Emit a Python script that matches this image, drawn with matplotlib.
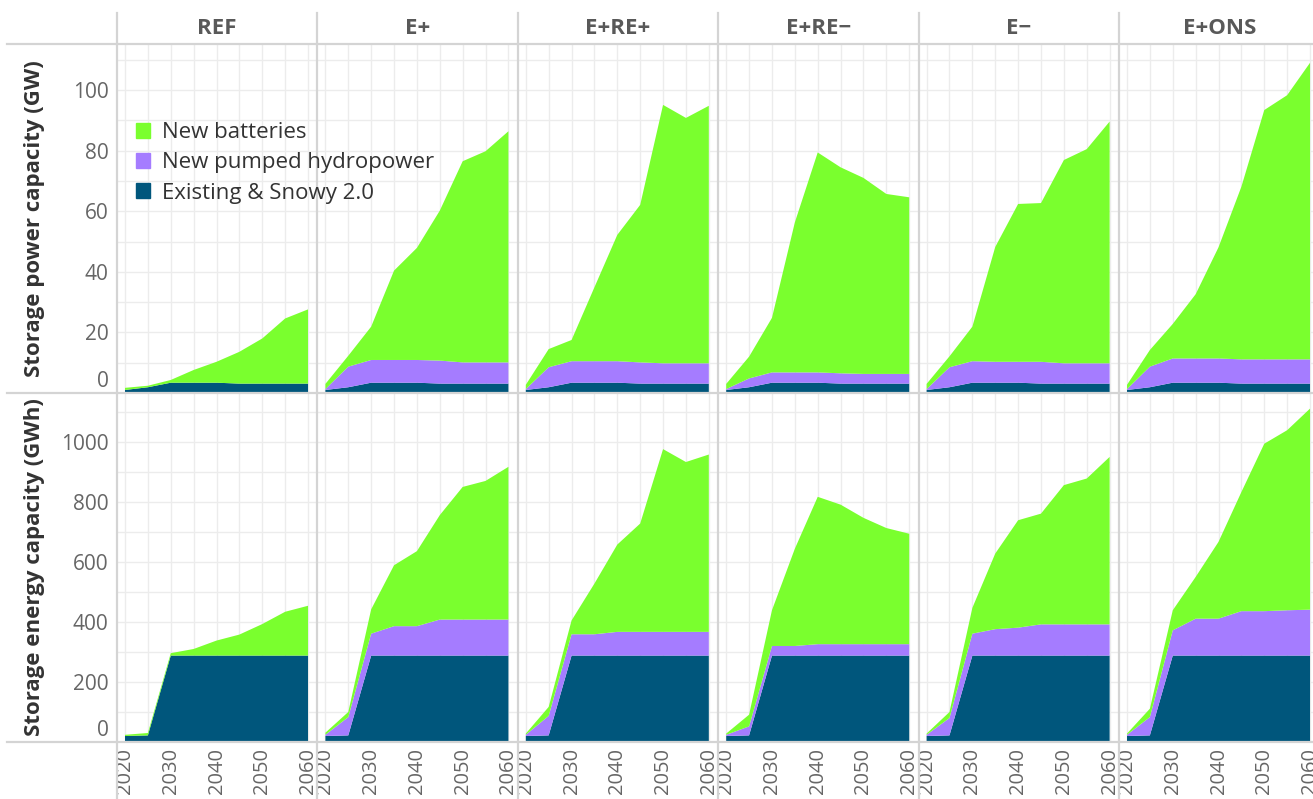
import matplotlib
matplotlib.use('agg')
import matplotlib.pyplot as plt
from matplotlib.lines import Line2D
from matplotlib.patches import Patch
from matplotlib import transforms
import numpy as np

plt.rcParams['font.family'] = ['Open Sans', 'DejaVu Sans']

years = [2020, 2025, 2030, 2035, 2040, 2045, 2050, 2055, 2060]
scenarios = ['REF', 'E+', 'E+RE+', 'E+RE\u2212', 'E\u2212', 'E+ONS']
layer_names = ['Existing & Snowy 2.0', 'New pumped hydropower', 'New batteries']

# storage power capacity (GW)
power_existing = [1.0, 1.9, 3.4, 3.4, 3.4, 3.1, 3.1, 3.1, 3.1]
power_phs = {
    'REF':        [0, 0, 0, 0, 0, 0, 0, 0, 0],
    'E+':         [0.3, 6.8, 7.5, 7.5, 7.5, 7.6, 7.0, 7.0, 7.0],
    'E+RE+':      [0.3, 6.6, 7.1, 7.1, 7.1, 7.0, 6.7, 6.7, 6.7],
    'E+RE\u2212': [0.3, 2.9, 3.4, 3.4, 3.4, 3.4, 3.2, 3.2, 3.2],
    'E\u2212':    [0.3, 6.6, 7.1, 6.9, 6.9, 7.2, 6.7, 6.7, 6.7],
    'E+ONS':      [0.3, 6.8, 8.0, 8.0, 8.0, 8.0, 8.0, 8.0, 8.0],
}
power_batt = {
    'REF':        [0.7, 0.5, 0.9, 4.2, 6.9, 10.5, 14.9, 21.5, 24.5],
    'E+':         [1.7, 3.6, 11.0, 29.5, 37.0, 49.5, 66.4, 69.7, 76.3],
    'E+RE+':      [1.4, 6.0, 7.0, 24.4, 41.7, 52.0, 85.3, 81.0, 85.0],
    'E+RE\u2212': [1.7, 7.2, 18.0, 49.5, 72.6, 68.0, 64.7, 59.4, 58.3],
    'E\u2212':    [1.7, 3.6, 11.4, 37.9, 52.1, 52.4, 67.1, 70.7, 79.8],
    'E+ONS':      [1.4, 5.5, 11.4, 21.2, 36.7, 57.0, 82.3, 87.2, 97.9],
}

# storage energy capacity (GWh)
energy_existing = [20, 22, 288, 288, 288, 288, 288, 288, 288]
energy_phs = {
    'REF':        [0, 0, 0, 0, 0, 0, 0, 0, 0],
    'E+':         [4, 61, 73, 98, 98, 120, 120, 120, 120],
    'E+RE+':      [4, 65, 71, 71, 79, 79, 79, 79, 79],
    'E+RE\u2212': [4, 30, 32, 32, 38, 38, 38, 38, 38],
    'E\u2212':    [4, 58, 73, 88, 93, 104, 104, 104, 104],
    'E+ONS':      [4, 61, 84, 123, 123, 148, 148, 151, 153],
}
energy_batt = {
    'REF':        [4, 8, 8, 22, 50, 70, 105, 146, 166],
    'E+':         [7, 17, 81, 203, 250, 348, 442, 462, 509],
    'E+RE+':      [4, 30, 46, 169, 291, 361, 609, 566, 591],
    'E+RE\u2212': [4, 39, 119, 324, 491, 465, 421, 387, 368],
    'E\u2212':    [4, 20, 86, 252, 358, 369, 464, 486, 558],
    'E+ONS':      [4, 28, 67, 139, 256, 397, 558, 600, 670],
}

colors = ['#00567c', '#a57cff', '#7aff2e']
grid_color = '#ececec'
frame_color = '#d4d4d4'
tick_color = '#666666'

W, H = 1313, 799
fig = plt.figure(figsize=(W / 100, H / 100), dpi=100)

x0, col_w = 117, 200.4
rows = [
    {'top': 44, 'bottom': 393, 'ylim': 115.2, 'major': np.arange(0, 101, 20), 'minor': np.arange(10, 111, 20),
     'existing': power_existing, 'phs': power_phs, 'batt': power_batt,
     'label': 'Storage power capacity (GW)'},
    {'top': 393, 'bottom': 742, 'ylim': 1163, 'major': np.arange(0, 1001, 200), 'minor': np.arange(100, 1101, 200),
     'existing': energy_existing, 'phs': energy_phs, 'batt': energy_batt,
     'label': 'Storage energy capacity (GWh)'},
]

for r, row in enumerate(rows):
    for c, sc in enumerate(scenarios):
        left = x0 + c * col_w
        ax = fig.add_axes([left / W, (H - row['bottom']) / H, col_w / W, (row['bottom'] - row['top']) / H])
        ax.stackplot(years, row['existing'], row['phs'][sc], row['batt'][sc],
                     colors=colors, linewidth=0, labels=layer_names)
        ax.set_xlim(2018.25, 2062.05)
        ax.set_ylim(0, row['ylim'])
        ax.set_xticks(range(2020, 2061, 10))
        ax.set_xticks(range(2025, 2060, 10), minor=True)
        ax.set_yticks(row['major'])
        ax.set_yticks(row['minor'], minor=True)
        ax.set_axisbelow(True)
        ax.grid(which='both', color=grid_color, linewidth=1)
        for s in ax.spines.values():
            s.set_visible(False)
        ax.tick_params(which='both', length=0, labelcolor=tick_color)
        ax.tick_params(axis='y', pad=6, labelsize=15)
        ax.tick_params(axis='x', pad=4, labelsize=14.5, labelrotation=90)

        if r == 0:
            ax.tick_params(axis='x', labelbottom=False)
        if c > 0:
            ax.tick_params(axis='y', labelleft=False)
        else:
            # lift the zero label clear of the baseline
            ticks = ax.yaxis.get_major_ticks()
            lbl = ticks[0].label1
            lbl.set_transform(lbl.get_transform() + transforms.ScaledTranslation(0, 0.14, fig.dpi_scale_trans))

        if r == 0:
            fig.text((left + col_w / 2) / W, 1 - 29 / H, sc, ha='center', va='center',
                     fontsize=16, fontweight='bold', color='#595959')

        if r == 0 and c == 0:
            h = [Patch(color=colors[2]), Patch(color=colors[1]), Patch(color=colors[0])]
            fig.legend(h, [layer_names[2], layer_names[1], layer_names[0]],
                       loc='upper left', bbox_to_anchor=(136 / W, 1 - 122 / H),
                       frameon=False, fontsize=16, labelcolor='#333333',
                       handlelength=0.65, handleheight=0.65, handletextpad=0.5,
                       labelspacing=0.42, borderaxespad=0, borderpad=0)

    fig.text(35 / W, 1 - (row['top'] + row['bottom']) / 2 / H, row['label'], rotation=90,
             ha='center', va='center', fontsize=16, fontweight='bold', color='#333333')

# facet frame lines
for y in [44, 393, 742]:
    fig.add_artist(Line2D([7 / W, 1], [1 - y / H, 1 - y / H], color=frame_color, linewidth=1.6,
                          transform=fig.transFigure))
for c in range(6):
    x = (x0 + c * col_w) / W
    fig.add_artist(Line2D([x, x], [0, 1 - 13 / H], color=frame_color, linewidth=1.6,
                          transform=fig.transFigure))

plt.savefig('out.png', dpi=100, facecolor='white')
plt.close(fig)
